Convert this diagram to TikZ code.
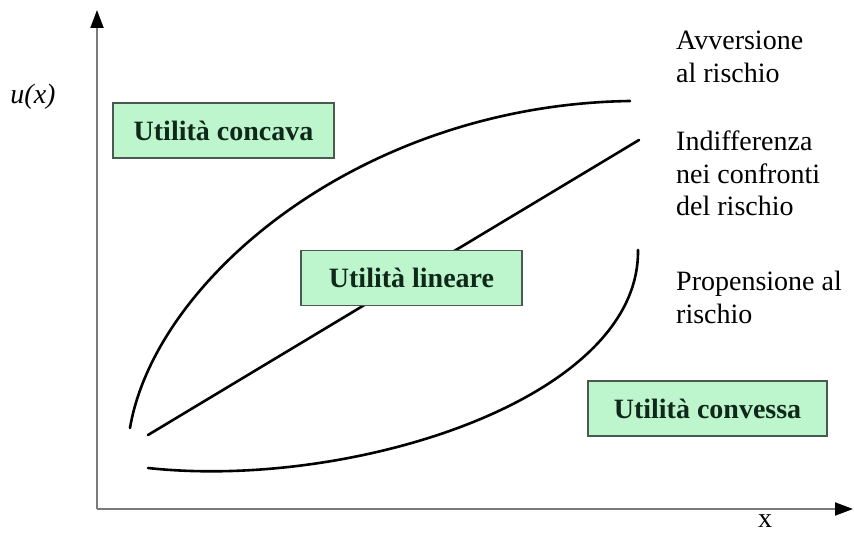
\documentclass[tikz,border=0pt]{standalone}
\usepackage{fontspec}
\setmainfont{Liberation Serif}
\usetikzlibrary{arrows.meta}
\definecolor{boxgreen}{HTML}{BDF5CD}
\definecolor{boxline}{HTML}{4A5A50}
\definecolor{boxtext}{HTML}{10281A}
\definecolor{axisgray}{HTML}{7A7A7A}
\tikzset{
  utilbox/.style={draw=boxline,line width=1.6pt,fill=boxgreen,text=boxtext,
    font=\fontsize{28}{32}\selectfont\bfseries,inner sep=0pt,minimum height=55pt},
  axisline/.style={draw=axisgray,line width=2pt,
    -{Triangle[length=18pt,width=13pt,color=black]}},
  curve/.style={line width=2.6pt,line cap=round},
  riskl/.style={anchor=north west,inner sep=0pt,align=left,
    font=\fontsize{28}{32.5}\selectfont}
}
\begin{document}
\begin{tikzpicture}[x=1pt,y=-1pt]
    \useasboundingbox (0,0) rectangle (854,534);
    % assi
    \coordinate (orig) at (97,509);
    \coordinate (ytop) at (97,10);
    \coordinate (xend) at (853,509);
    \draw[axisline] (orig) -- (ytop);
    \draw[axisline] (orig) -- (xend);
    \node[font=\fontsize{28}{32}\selectfont\itshape] (ulab) at (33,97) {u(x)};
    \node[font=\fontsize{28}{32}\selectfont] (xlab) at (765,521) {x};
    % curve
    \draw[curve] (130,428) .. controls (155,280) and (360,105) .. (630,101);
    \draw[curve] (148,435) -- (639,140);
    \draw[curve] (148,468) .. controls (350,490) and (640,400) .. (638,250);
    % riquadri
    \node[utilbox,minimum width=221pt] (concava) at (223.5,130.5) {Utilità concava};
    \node[utilbox,minimum width=221pt] (lineare) at (411.5,278) {Utilità lineare};
    \node[utilbox,minimum width=239pt] (convessa) at (707.5,408.5) {Utilità convessa};
    % etichette
    \node[riskl] (avv) at (676,31) {Avversione\\al rischio};
    \node[riskl] (ind) at (676,131) {Indifferenza\\nei confronti\\del rischio};
    \node[riskl] (prop) at (676,271) {Propensione al\\rischio};
\end{tikzpicture}
\end{document}
